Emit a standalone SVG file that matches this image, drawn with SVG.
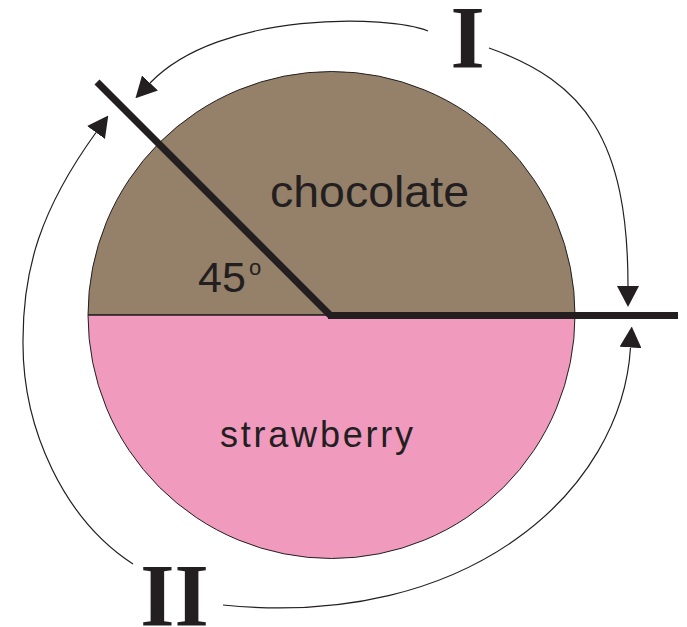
<svg xmlns="http://www.w3.org/2000/svg" width="687" height="627" viewBox="0 0 687 627">
<style>
.thin{fill:none;stroke:#231F20;stroke-width:1.2}
.thick{fill:none;stroke:#231F20;stroke-width:7;stroke-linecap:butt}
.lbl{font-family:"Liberation Sans",Arial,sans-serif;fill:#231F20}
.roman{font-family:"Liberation Serif","Times New Roman",serif;font-weight:bold;fill:#231F20;text-anchor:middle}
</style>
<defs>
<marker id="ah" markerUnits="userSpaceOnUse" viewBox="0 0 21 22" refX="0" refY="11" markerWidth="21" markerHeight="22" orient="auto">
<path d="M0,0 L21,11 L0,22 Z" fill="#231F20"/>
</marker>
</defs>
<rect width="687" height="627" fill="#ffffff"/>
<g id="chocolate">
<path d="M88,315 A243.5,243.5 0 0 1 575,315 Z" fill="#958169" stroke="#231F20" stroke-width="1"/>
<text class="lbl" x="270" y="207" font-size="44" textLength="199" lengthAdjust="spacingAndGlyphs">chocolate</text>
</g>
<g id="strawberry">
<path d="M88,315 A243.5,243.5 0 0 0 575,315 Z" fill="#F09ABE" stroke="#231F20" stroke-width="1"/>
<text class="lbl" x="220" y="447" font-size="36" textLength="193" lengthAdjust="spacing">strawberry</text>
</g>
<g id="angle">
<text class="lbl" x="198" y="292" font-size="43">45</text>
<text class="lbl" x="249" y="275" font-size="22">o</text>
</g>
<g id="label-I">
<text class="roman" x="467.5" y="67" font-size="88">I</text>
</g>
<g id="label-II">
<text class="roman" x="174.5" y="625" font-size="88">II</text>
</g>
<g id="connectors">
<line class="thin" x1="88" y1="315" x2="331" y2="315"/>
<line class="thick" x1="331" y1="316" x2="97" y2="82"/>
<line class="thick" x1="328" y1="315.5" x2="678" y2="315.5"/>
<path class="thin" d="M489,48 C585,82 628,140 628,286" marker-end="url(#ah)"/>
<path class="thin" d="M428,31 C390,15 220,10 150,83" marker-end="url(#ah)"/>
<path class="thin" d="M133,564 C65,520 22,430 23,340 C23,270 40,210 96,132.5" marker-end="url(#ah)"/>
<path class="thin" d="M223,605 C470,630 622,490 630.5,347.5" marker-end="url(#ah)"/>
</g>
</svg>
